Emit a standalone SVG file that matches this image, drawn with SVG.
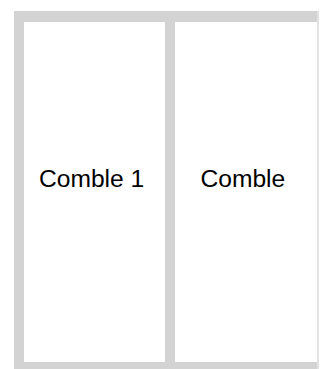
<svg xmlns="http://www.w3.org/2000/svg" width="320" height="369" viewBox="0 0 320 369">
<style>
.band{fill:#d3d3d3}
.thin{fill:#e2e2e2}
.lbl{font-family:"Liberation Sans",Arial,sans-serif;font-size:24.6px;fill:#000}
</style>
<rect width="320" height="369" fill="#fff"/>
<g id="frame">
<rect class="band" x="14" y="11" width="305" height="11"/>
<rect class="band" x="14" y="362" width="305" height="7"/>
<rect class="band" x="14" y="11" width="10" height="358"/>
<rect class="band" x="165" y="11" width="10" height="358"/>
<rect class="thin" x="317" y="11" width="2" height="358"/>
</g>
<g id="comble1">
<text class="lbl" x="39" y="187">Comble 1</text>
</g>
<g id="comble">
<text class="lbl" x="200.5" y="187">Comble</text>
</g>
<g id="connectors"></g>
</svg>
